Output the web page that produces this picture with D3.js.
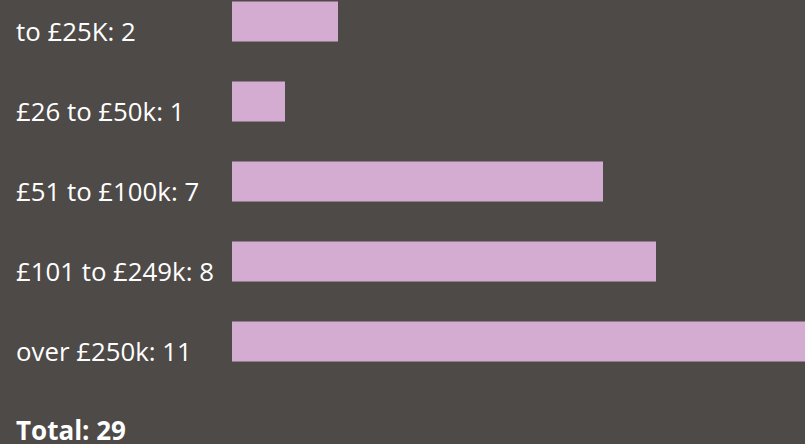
<!DOCTYPE html>
<html>
<head>
<meta charset="utf-8">
<script src="https://cdn.jsdelivr.net/npm/d3@7"></script>
<style>
  html, body { margin: 0; padding: 0; background: #4e4a47; overflow: hidden; }
  text { font-family: "Open Sans", "Noto Sans", sans-serif; fill: #fff; }
</style>
</head>
<body>
<div id="chart"></div>
<script>
const categories = ['to £25K', '£26 to £50k', '£51 to £100k', '£101 to £249k', 'over £250k'];
const counts = [2, 1, 7, 8, 11];
const totalLabel = 'Total';

const width = 805, height = 444;

const svg = d3.select('#chart').append('svg')
    .attr('width', width)
    .attr('height', height);

svg.append('rect')
    .attr('width', width)
    .attr('height', height)
    .attr('fill', '#4e4a47');

// 53px per unit; longest bar runs off the right edge
const x = d3.scaleLinear().domain([0, 11]).range([232, 815]);

// step 80, bar 40
const y = d3.scaleBand()
    .domain(categories)
    .range([1.5, 361.5])
    .paddingInner(0.5)
    .paddingOuter(0);

svg.append('g')
  .selectAll('rect')
  .data(categories)
  .enter().append('rect')
    .attr('x', x(0))
    .attr('y', d => y(d))
    .attr('width', (d, i) => x(counts[i]) - x(0))
    .attr('height', y.bandwidth())
    .attr('fill', '#d4acd1');

svg.append('g')
  .selectAll('text')
  .data(categories)
  .enter().append('text')
    .attr('x', 16)
    .attr('y', d => y(d) + y.bandwidth() / 2 + 19.5)
    .attr('font-size', 25.8)
    .text((d, i) => `${d}: ${counts[i]}`);

svg.append('text')
    .attr('x', 16)
    .attr('y', 440)
    .attr('font-size', 26)
    .attr('font-weight', 'bold')
    .text(`${totalLabel}: ${d3.sum(counts)}`);
</script>
</body>
</html>
